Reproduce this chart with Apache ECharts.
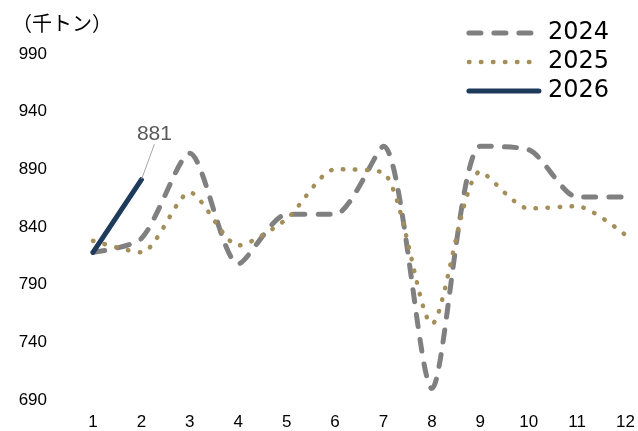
<!DOCTYPE html>
<html>
<head>
<meta charset="utf-8">
<script src="https://cdn.jsdelivr.net/npm/echarts@6/dist/echarts.min.js"></script>
<style>html,body{margin:0;padding:0;background:#fff}#c{width:638px;height:431px}</style>
</head>
<body>
<div id="c"></div>
<script>
const months = ["1", "2", "3", "4", "5", "6", "7", "8", "9", "10", "11", "12"];
const y2024 = [818, 830, 904, 808, 851, 851, 910, 700, 910, 907, 866, 866];
const y2025 = [828, 818, 870, 824, 847, 890, 887, 756, 888, 856, 858, 833];
const y2026 = [818, 881];
const yTicks = { min: 690, max: 990, step: 50 };

const C24 = "#808080", C25 = "#A48F5A", C26 = "#1F3B5C";
const LS24 = { color: C24, width: 5, type: [12, 13], cap: "round", join: "round" };
const LS25 = { color: C25, width: 4.5, type: [0.5, 11.5], cap: "round" };
const LS26 = { color: C26, width: 5, cap: "round" };

const chart = echarts.init(document.getElementById("c"));
const AX = { fontFamily: "Liberation Sans, Arial, sans-serif", fontSize: 17, color: "#000" };
chart.setOption({
  animation: false,
  title: { text: "（千トン）", left: 7, top: 8, textStyle: { fontFamily: "Noto Sans CJK JP", fontSize: 20, fontWeight: "normal", color: "#000" } },
  legend: {
    orient: "vertical", right: 24, top: 16, itemWidth: 70, itemHeight: 14, itemGap: 5,
    textStyle: { fontFamily: "DejaVu Sans", fontSize: 24, lineHeight: 24, color: "#000", padding: [0, 0, 0, 4] },
    itemStyle: { opacity: 0 },
    data: [
      { name: "2024", lineStyle: LS24 },
      { name: "2025", lineStyle: LS25 },
      { name: "2026", lineStyle: LS26 },
    ],
  },
  grid: { left: 93, right: 12, top: 54, bottom: 29 },
  xAxis: {
    type: "category", data: months, boundaryGap: false,
    axisLine: { show: false }, axisTick: { show: false },
    axisLabel: { ...AX, margin: 14 },
  },
  yAxis: {
    type: "value", min: yTicks.min, max: yTicks.max, interval: yTicks.step,
    splitLine: { show: false }, axisLine: { show: false }, axisTick: { show: false },
    axisLabel: { ...AX, margin: 46 },
  },
  series: [
    { name: "2024", type: "line", data: y2024, symbol: "none", smooth: 0.25, z: 2, lineStyle: LS24, itemStyle: { color: C24 } },
    { name: "2025", type: "line", data: y2025, symbol: "none", smooth: 0.25, z: 3, lineStyle: LS25, itemStyle: { color: C25 } },
    { name: "2026", type: "line", z: 4, symbol: "circle", symbolSize: 1, showSymbol: true,
      data: y2026.map((v, i) => i === y2026.length - 1 ? { value: v, label: { show: true } } : { value: v }),
      lineStyle: LS26, itemStyle: { color: C26 },
      label: { show: false, position: "top", fontFamily: "Liberation Sans, Arial", fontSize: 21, color: "#595959" },
      labelLayout: { dx: 13, dy: -30 },
      labelLine: { show: true, lineStyle: { color: "#a6a6a6", width: 1 } } },
  ],
});
</script>
</body>
</html>
